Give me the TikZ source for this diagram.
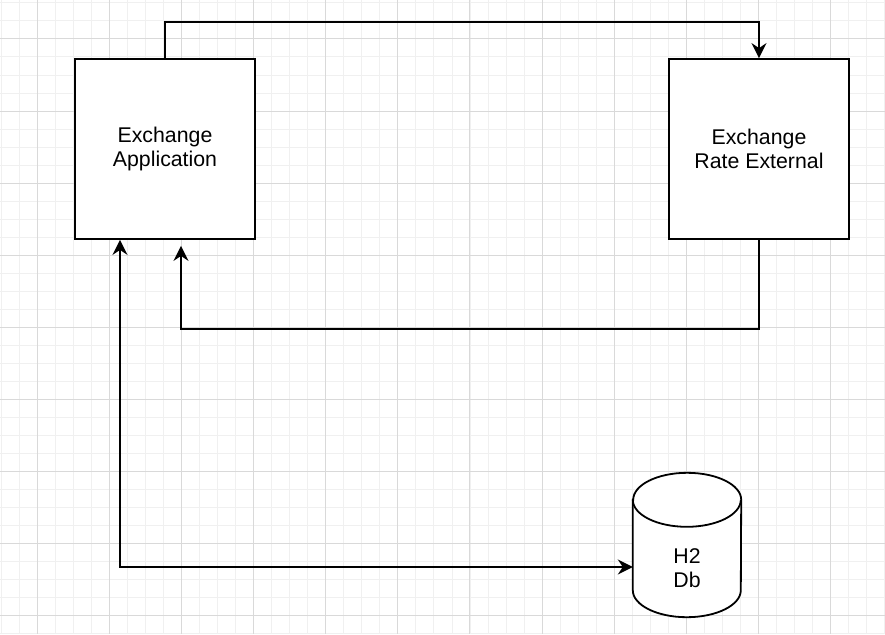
\documentclass[tikz,border=0pt]{standalone}
\usepackage{fontspec}
\setmainfont{Liberation Sans}
\usetikzlibrary{arrows.meta}

\begin{document}
\begin{tikzpicture}[x=1pt,y=-1pt,>={Stealth[length=15pt,width=15pt,inset=5pt]}]

\tikzset{boite/.style={draw,line width=1.8pt,fill=white,minimum size=180pt,align=center,font=\fontsize{21.3}{24}\selectfont}} %style des blocs
\tikzset{texte/.style={align=center,font=\fontsize{21.3}{24}\selectfont}}
\tikzset{liaison/.style={line width=1.8pt}}
\tikzset{petitgrille/.style={gray!12,line width=1pt},grandgrille/.style={gray!30,line width=1pt}}

\useasboundingbox (0,0) rectangle (885,634);

	%grille
	\foreach \i in {0,...,49} \draw[petitgrille] (1+18.04*\i,0) -- ++(0,634);
	\foreach \i in {0,...,35} \draw[petitgrille] (0,3+18*\i) -- ++(885,0);
	\foreach \i in {0,...,11} \draw[grandgrille] (37+72.15*\i,0) -- ++(0,634);
	\foreach \i in {0,...,8} \draw[grandgrille] (0,39+72*\i) -- ++(885,0);

	%blocs
	\node[boite] (app) at (165,149) {Exchange\\Application};
	\node[boite] (rate) at (759,149) {Exchange\\Rate External};

	%base de donnees
	\node[inner sep=0pt,minimum width=108pt,minimum height=144pt] (db) at (687,545) {};
	\draw[liaison,fill=white] ([yshift=-27pt]db.north west) -- ([yshift=27pt]db.south west)
		arc[start angle=180,end angle=0,x radius=54,y radius=27] -- ([yshift=-27pt]db.north east)
		arc[start angle=0,end angle=-180,x radius=54,y radius=27] -- cycle;
	\draw[liaison] ([yshift=-27pt]db.north west) arc[start angle=180,end angle=0,x radius=54,y radius=27];
	\node[texte] (dbtexte) at ([yshift=-23pt]db.center) {H2\\Db};

	%liaisons
	\draw [liaison,->] (app.north) -- ++(0,-36) -| (rate.north);
	\draw [liaison,->,shorten >=6pt] (rate.south) -- ++(0,89) -| ([xshift=16]app.south);
	\draw [liaison,<->] ([xshift=-45]app.south) |- ([yshift=-22pt]db.west);

\end{tikzpicture}
\end{document}
